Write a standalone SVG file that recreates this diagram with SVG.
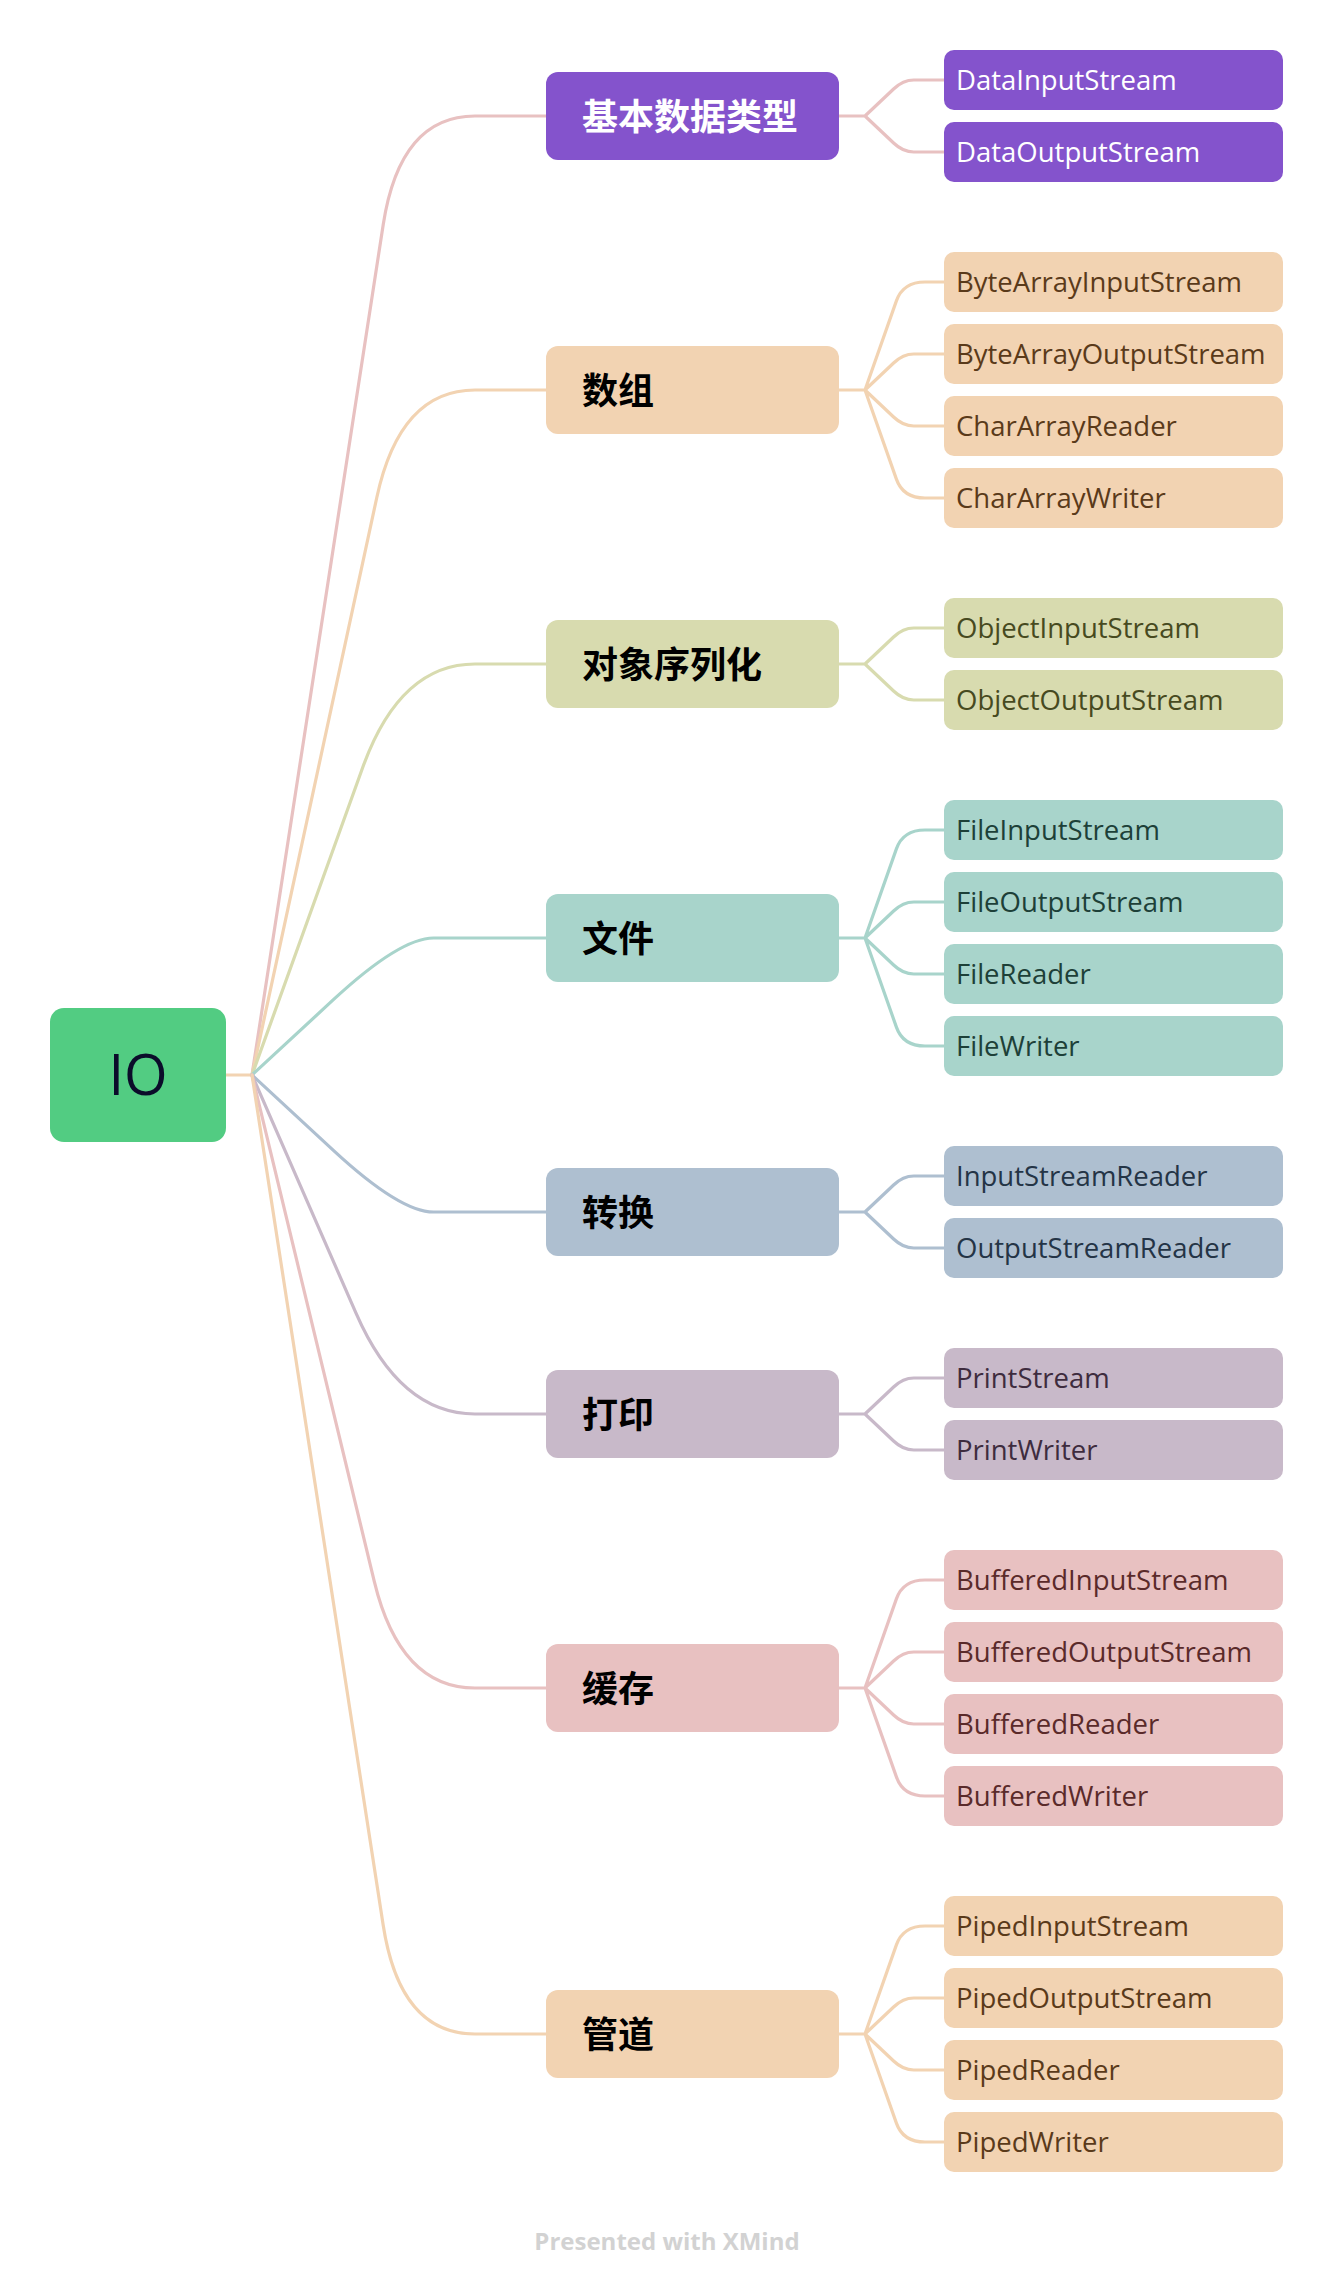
<svg xmlns="http://www.w3.org/2000/svg" width="1334" height="2292" viewBox="0 0 1334 2292">
<style>
.ln{fill:none;stroke-width:3.2;stroke-linejoin:round;stroke-linecap:round}
.pk{stroke:#E8C1C1}.pe{stroke:#F2D3B2}.ol{stroke:#D8DBAF}.te{stroke:#A8D4CB}.bl{stroke:#AEBFD0}.mv{stroke:#C8B9C9}
.cat{font-family:"Noto Sans CJK SC","Noto Sans",sans-serif;font-weight:700;font-size:36px;fill:#000}
.leaf{font-family:"Open Sans","Noto Sans",sans-serif;font-size:27.5px}
.fpu{fill:#8453CC}.fpe{fill:#F2D3B2}.fol{fill:#D8DBAF}.fte{fill:#A8D4CB}.fbl{fill:#AEBFD0}.fmv{fill:#C8B9C9}.fpk{fill:#E8C1C1}
.tpu{fill:#FFFFFF}.tpe{fill:#5A3A1A}.tol{fill:#474A1F}.tte{fill:#1D4038}.tbl{fill:#243446}.tmv{fill:#3E2C3E}.tpk{fill:#5A2A2A}
</style>
<rect width="1334" height="2292" fill="#FFFFFF"/>
<g id="connectors">
<path class="ln pe" d="M226 1075H252"/>
<path class="ln pk" d="M252 1075L383.2 224.7Q400 116 475 116H546"/>
<path class="ln pe" d="M252 1075L376.8 497.5Q400 390 475 390H546"/>
<path class="ln ol" d="M252 1075L362.7 767.5Q400 664 475 664H546"/>
<path class="ln te" d="M252 1075L333.4 999.7Q400 938 433.6 938H546"/>
<path class="ln bl" d="M252 1075L333.4 1150.3Q400 1212 433.6 1212H546"/>
<path class="ln mv" d="M252 1075L356 1313.2Q400 1414 475 1414H546"/>
<path class="ln pk" d="M252 1075L374.2 1581.1Q400 1688 475 1688H546"/>
<path class="ln pe" d="M252 1075L383.2 1925.3Q400 2034 475 2034H546"/>
<path class="ln pk" d="M839 116H865M865 116L893.6 89Q903 80 913.8 80H944M865 116L893.6 143Q903 152 913.8 152H944"/>
<path class="ln pe" d="M839 390H865M865 390L896.4 300.9Q903 282 925 282H944M865 390L893.6 363Q903 354 913.8 354H944M865 390L893.6 417Q903 426 913.8 426H944M865 390L896.4 479.1Q903 498 925 498H944"/>
<path class="ln ol" d="M839 664H865M865 664L893.6 637Q903 628 913.8 628H944M865 664L893.6 691Q903 700 913.8 700H944"/>
<path class="ln te" d="M839 938H865M865 938L896.4 848.9Q903 830 925 830H944M865 938L893.6 911Q903 902 913.8 902H944M865 938L893.6 965Q903 974 913.8 974H944M865 938L896.4 1027.1Q903 1046 925 1046H944"/>
<path class="ln bl" d="M839 1212H865M865 1212L893.6 1185Q903 1176 913.8 1176H944M865 1212L893.6 1239Q903 1248 913.8 1248H944"/>
<path class="ln mv" d="M839 1414H865M865 1414L893.6 1387Q903 1378 913.8 1378H944M865 1414L893.6 1441Q903 1450 913.8 1450H944"/>
<path class="ln pk" d="M839 1688H865M865 1688L896.4 1598.9Q903 1580 925 1580H944M865 1688L893.6 1661Q903 1652 913.8 1652H944M865 1688L893.6 1715Q903 1724 913.8 1724H944M865 1688L896.4 1776.9Q903 1796 925 1796H944"/>
<path class="ln pe" d="M839 2034H865M865 2034L896.4 1944.9Q903 1926 925 1926H944M865 2034L893.6 2007Q903 1998 913.8 1998H944M865 2034L893.6 2061Q903 2070 913.8 2070H944M865 2034L896.4 2123.1Q903 2142 925 2142H944"/>
</g>
<g id="root"><rect x="50" y="1008" width="176" height="134" rx="14" fill="#52CC82"/><text x="138" y="1095" text-anchor="middle" font-family="Open Sans, Noto Sans, sans-serif" font-size="56" fill="#0B0C2A">IO</text></g>
<g id="cat-basic"><rect class="fpu" x="546" y="72" width="293" height="88" rx="12"/><text class="cat" x="582" y="130" style="fill:#FFFFFF">基本数据类型</text></g>
<g id="cat-array"><rect class="fpe" x="546" y="346" width="293" height="88" rx="12"/><text class="cat" x="582" y="404">数组</text></g>
<g id="cat-object"><rect class="fol" x="546" y="620" width="293" height="88" rx="12"/><text class="cat" x="582" y="678">对象序列化</text></g>
<g id="cat-file"><rect class="fte" x="546" y="894" width="293" height="88" rx="12"/><text class="cat" x="582" y="952">文件</text></g>
<g id="cat-convert"><rect class="fbl" x="546" y="1168" width="293" height="88" rx="12"/><text class="cat" x="582" y="1226">转换</text></g>
<g id="cat-print"><rect class="fmv" x="546" y="1370" width="293" height="88" rx="12"/><text class="cat" x="582" y="1428">打印</text></g>
<g id="cat-buffer"><rect class="fpk" x="546" y="1644" width="293" height="88" rx="12"/><text class="cat" x="582" y="1702">缓存</text></g>
<g id="cat-pipe"><rect class="fpe" x="546" y="1990" width="293" height="88" rx="12"/><text class="cat" x="582" y="2048">管道</text></g>
<g id="leaf-DataInputStream"><rect class="fpu" x="944" y="50" width="339" height="60" rx="10"/><text class="leaf tpu" x="956" y="90">DataInputStream</text></g>
<g id="leaf-DataOutputStream"><rect class="fpu" x="944" y="122" width="339" height="60" rx="10"/><text class="leaf tpu" x="956" y="162">DataOutputStream</text></g>
<g id="leaf-ByteArrayInputStream"><rect class="fpe" x="944" y="252" width="339" height="60" rx="10"/><text class="leaf tpe" x="956" y="292">ByteArrayInputStream</text></g>
<g id="leaf-ByteArrayOutputStream"><rect class="fpe" x="944" y="324" width="339" height="60" rx="10"/><text class="leaf tpe" x="956" y="364">ByteArrayOutputStream</text></g>
<g id="leaf-CharArrayReader"><rect class="fpe" x="944" y="396" width="339" height="60" rx="10"/><text class="leaf tpe" x="956" y="436">CharArrayReader</text></g>
<g id="leaf-CharArrayWriter"><rect class="fpe" x="944" y="468" width="339" height="60" rx="10"/><text class="leaf tpe" x="956" y="508">CharArrayWriter</text></g>
<g id="leaf-ObjectInputStream"><rect class="fol" x="944" y="598" width="339" height="60" rx="10"/><text class="leaf tol" x="956" y="638">ObjectInputStream</text></g>
<g id="leaf-ObjectOutputStream"><rect class="fol" x="944" y="670" width="339" height="60" rx="10"/><text class="leaf tol" x="956" y="710">ObjectOutputStream</text></g>
<g id="leaf-FileInputStream"><rect class="fte" x="944" y="800" width="339" height="60" rx="10"/><text class="leaf tte" x="956" y="840">FileInputStream</text></g>
<g id="leaf-FileOutputStream"><rect class="fte" x="944" y="872" width="339" height="60" rx="10"/><text class="leaf tte" x="956" y="912">FileOutputStream</text></g>
<g id="leaf-FileReader"><rect class="fte" x="944" y="944" width="339" height="60" rx="10"/><text class="leaf tte" x="956" y="984">FileReader</text></g>
<g id="leaf-FileWriter"><rect class="fte" x="944" y="1016" width="339" height="60" rx="10"/><text class="leaf tte" x="956" y="1056">FileWriter</text></g>
<g id="leaf-InputStreamReader"><rect class="fbl" x="944" y="1146" width="339" height="60" rx="10"/><text class="leaf tbl" x="956" y="1186">InputStreamReader</text></g>
<g id="leaf-OutputStreamReader"><rect class="fbl" x="944" y="1218" width="339" height="60" rx="10"/><text class="leaf tbl" x="956" y="1258">OutputStreamReader</text></g>
<g id="leaf-PrintStream"><rect class="fmv" x="944" y="1348" width="339" height="60" rx="10"/><text class="leaf tmv" x="956" y="1388">PrintStream</text></g>
<g id="leaf-PrintWriter"><rect class="fmv" x="944" y="1420" width="339" height="60" rx="10"/><text class="leaf tmv" x="956" y="1460">PrintWriter</text></g>
<g id="leaf-BufferedInputStream"><rect class="fpk" x="944" y="1550" width="339" height="60" rx="10"/><text class="leaf tpk" x="956" y="1590">BufferedInputStream</text></g>
<g id="leaf-BufferedOutputStream"><rect class="fpk" x="944" y="1622" width="339" height="60" rx="10"/><text class="leaf tpk" x="956" y="1662">BufferedOutputStream</text></g>
<g id="leaf-BufferedReader"><rect class="fpk" x="944" y="1694" width="339" height="60" rx="10"/><text class="leaf tpk" x="956" y="1734">BufferedReader</text></g>
<g id="leaf-BufferedWriter"><rect class="fpk" x="944" y="1766" width="339" height="60" rx="10"/><text class="leaf tpk" x="956" y="1806">BufferedWriter</text></g>
<g id="leaf-PipedInputStream"><rect class="fpe" x="944" y="1896" width="339" height="60" rx="10"/><text class="leaf tpe" x="956" y="1936">PipedInputStream</text></g>
<g id="leaf-PipedOutputStream"><rect class="fpe" x="944" y="1968" width="339" height="60" rx="10"/><text class="leaf tpe" x="956" y="2008">PipedOutputStream</text></g>
<g id="leaf-PipedReader"><rect class="fpe" x="944" y="2040" width="339" height="60" rx="10"/><text class="leaf tpe" x="956" y="2080">PipedReader</text></g>
<g id="leaf-PipedWriter"><rect class="fpe" x="944" y="2112" width="339" height="60" rx="10"/><text class="leaf tpe" x="956" y="2152">PipedWriter</text></g>
<text x="667" y="2250" text-anchor="middle" font-family="Open Sans, Noto Sans, sans-serif" font-weight="700" font-size="24" fill="#D2D2D2">Presented with XMind</text>
</svg>
